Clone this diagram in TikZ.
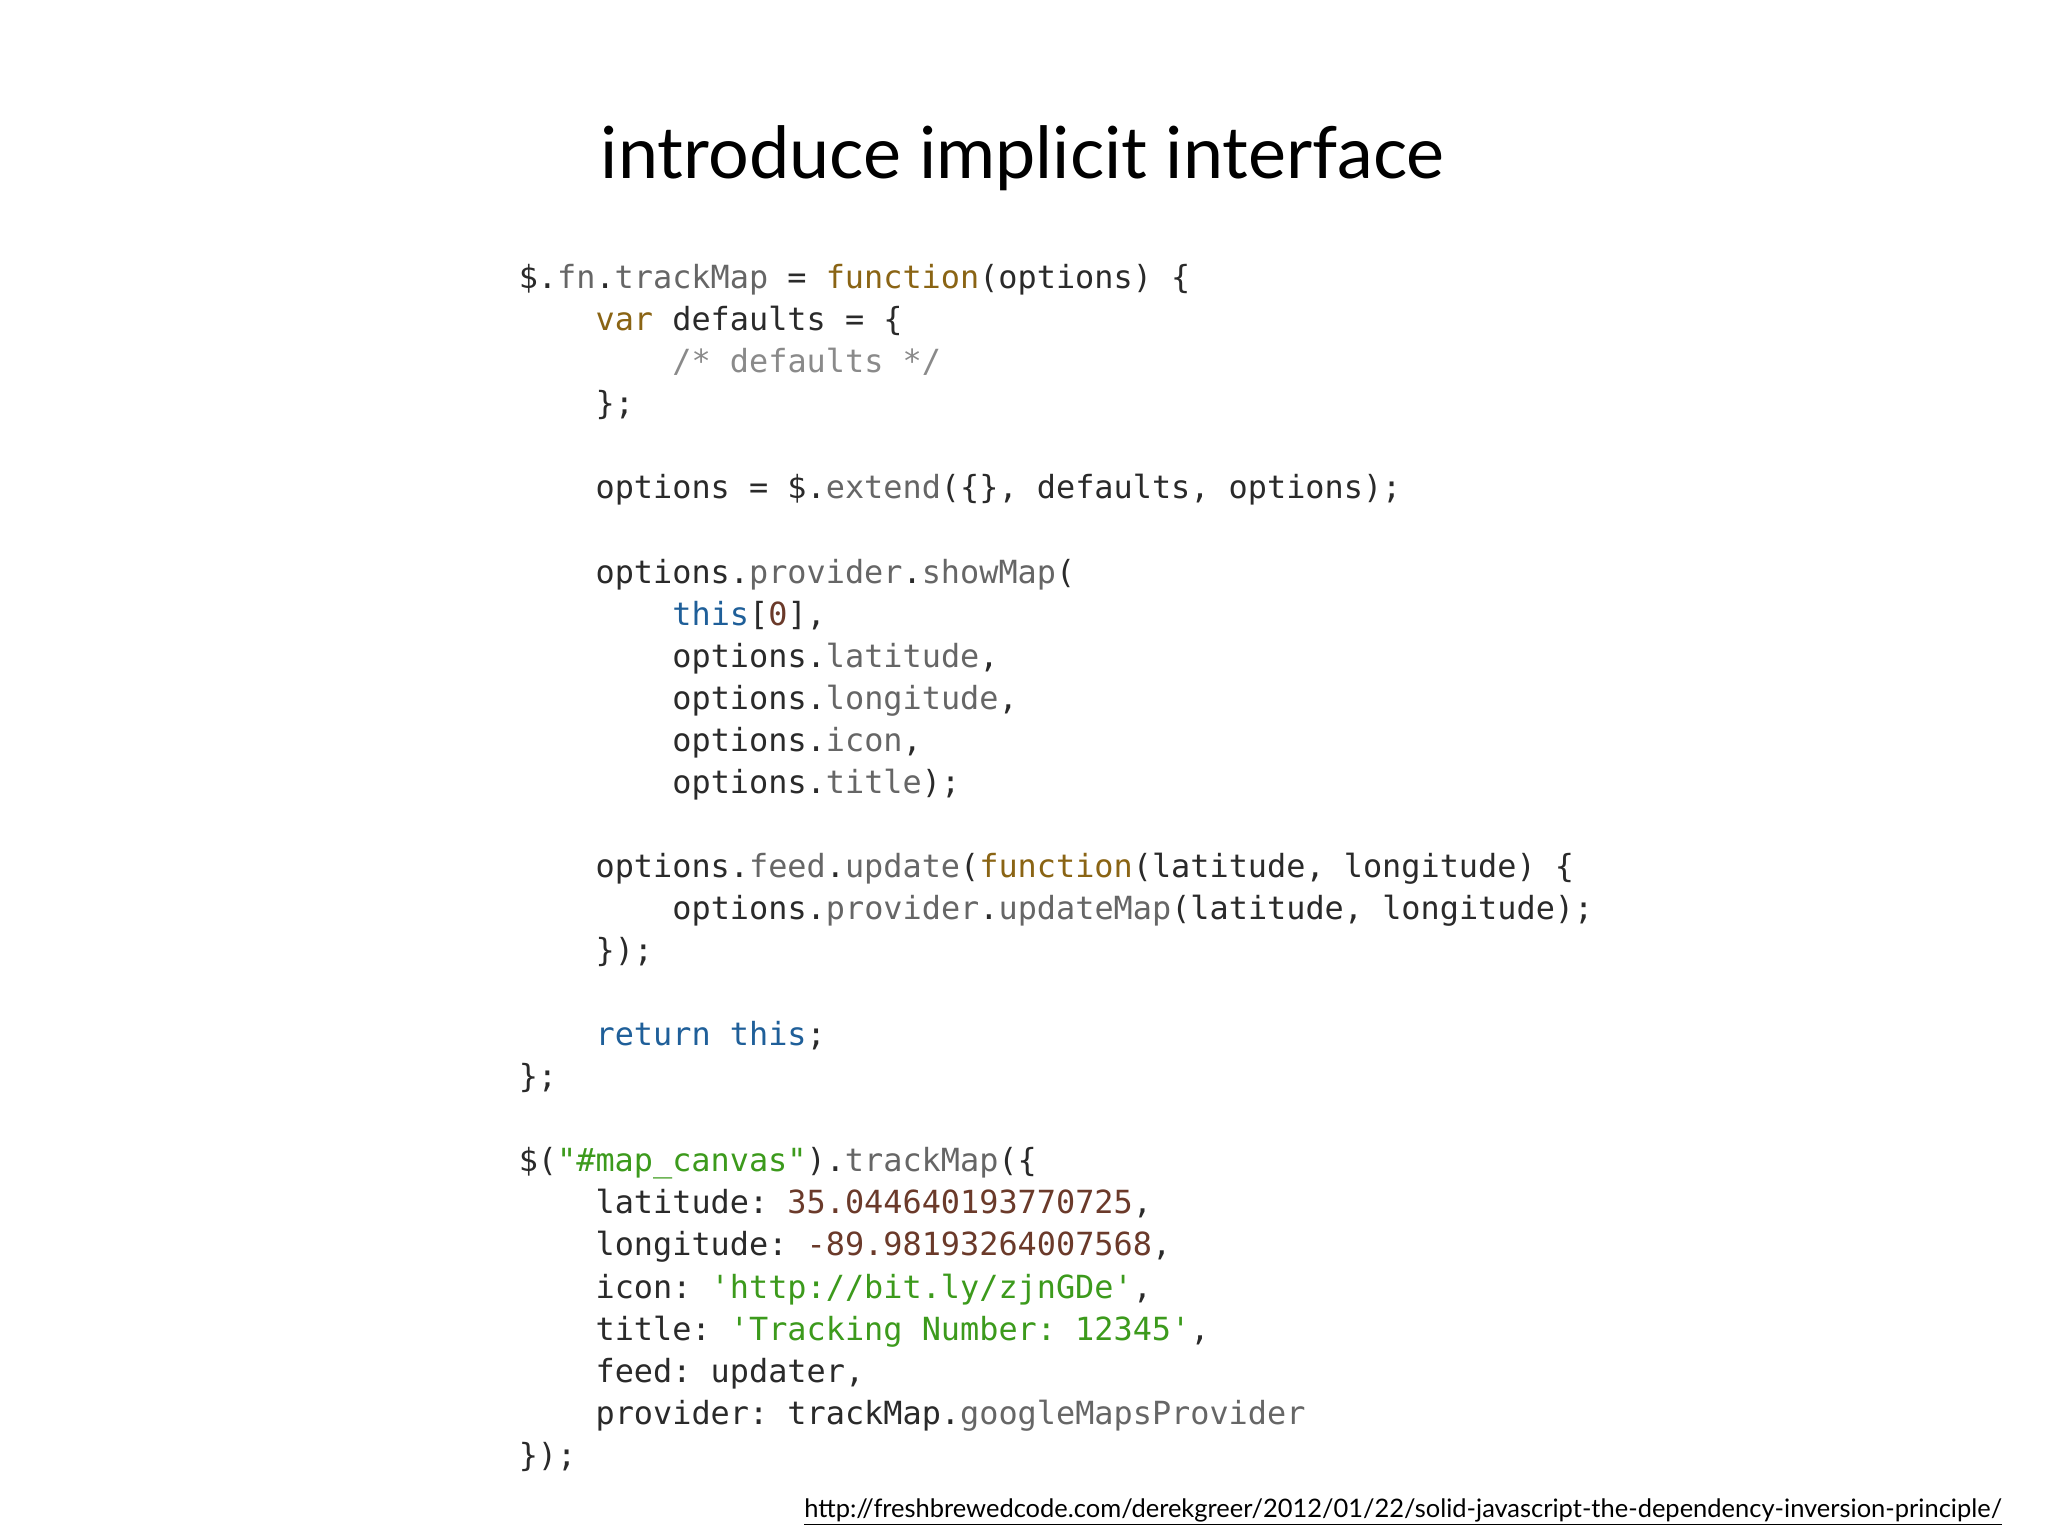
\documentclass[tikz,border=0pt]{standalone}
\usepackage{fontspec}
\setmainfont{Lato}
\setmonofont{DejaVu Sans Mono}
\definecolor{tx}{HTML}{2A2A2A}
\definecolor{pr}{HTML}{666666}
\definecolor{kw}{HTML}{8A6414}
\definecolor{cm}{HTML}{8A8A8A}
\definecolor{bl}{HTML}{1F5F99}
\definecolor{nu}{HTML}{6B3A2A}
\definecolor{st}{HTML}{3C9A1C}
\newcommand{\Pp}[1]{\textcolor{pr}{#1}}
\newcommand{\Kw}[1]{\textcolor{kw}{#1}}
\newcommand{\Bl}[1]{\textcolor{bl}{#1}}
\newcommand{\Nu}[1]{\textcolor{nu}{#1}}
\newcommand{\St}[1]{\textcolor{st}{#1}}
\tikzset{code/.style={anchor=base west,inner sep=0pt,font=\fontsize{24.4}{29}\selectfont\ttfamily,text=tx}}
\begin{document}
\begin{tikzpicture}[x=1pt,y=1pt]
\useasboundingbox (0,0) rectangle (1568,-1176);
\node[anchor=base,inner sep=0pt,font=\fontsize{55}{60}\selectfont,text=black] (title) at (783,-137) {introduce implicit interface};
\def\cx#1{\fpeval{397+14.7*#1}}
\def\cy#1{\fpeval{-221-32.2*#1}}
\node[code] (l0) at (\cx{0},\cy{0}) {\$.\Pp{fn}.\Pp{trackMap} = \Kw{function}(options) \{};
\node[code] (l1) at (\cx{4},\cy{1}) {\Kw{var} defaults = \{};
\node[code] (l2) at (\cx{8},\cy{2}) {\textcolor{cm}{/* defaults */}};
\node[code] (l3) at (\cx{4},\cy{3}) {\};};
\node[code] (l5) at (\cx{4},\cy{5}) {options = \$.\Pp{extend}(\{\}, defaults, options);};
\node[code] (l7) at (\cx{4},\cy{7}) {options.\Pp{provider}.\Pp{showMap}(};
\node[code] (l8) at (\cx{8},\cy{8}) {\Bl{this}[\Nu{0}],};
\node[code] (l9) at (\cx{8},\cy{9}) {options.\Pp{latitude},};
\node[code] (l10) at (\cx{8},\cy{10}) {options.\Pp{longitude},};
\node[code] (l11) at (\cx{8},\cy{11}) {options.\Pp{icon},};
\node[code] (l12) at (\cx{8},\cy{12}) {options.\Pp{title});};
\node[code] (l14) at (\cx{4},\cy{14}) {options.\Pp{feed}.\Pp{update}(\Kw{function}(latitude, longitude) \{};
\node[code] (l15) at (\cx{8},\cy{15}) {options.\Pp{provider}.\Pp{updateMap}(latitude, longitude);};
\node[code] (l16) at (\cx{4},\cy{16}) {\});};
\node[code] (l18) at (\cx{4},\cy{18}) {\Bl{return} \Bl{this};};
\node[code] (l19) at (\cx{0},\cy{19}) {\};};
\node[code] (l21) at (\cx{0},\cy{21}) {\$(\St{"\#map\_canvas"}).\Pp{trackMap}(\{};
\node[code] (l22) at (\cx{4},\cy{22}) {latitude: \Nu{35.044640193770725},};
\node[code] (l23) at (\cx{4},\cy{23}) {longitude: \Nu{-89.98193264007568},};
\node[code] (l24) at (\cx{4},\cy{24}) {icon: \St{\textquotesingle http://bit.ly/zjnGDe\textquotesingle},};
\node[code] (l25) at (\cx{4},\cy{25}) {title: \St{\textquotesingle Tracking Number: 12345\textquotesingle},};
\node[code] (l26) at (\cx{4},\cy{26}) {feed: updater,};
\node[code] (l27) at (\cx{4},\cy{27}) {provider: trackMap.\Pp{googleMapsProvider}};
\node[code] (l28) at (\cx{0},\cy{28}) {\});};
\node[anchor=base east,inner sep=0pt,font=\fontsize{19.5}{22}\selectfont,text=black] (url) at (1533,-1162) {\underline{http://freshbrewedcode.com/derekgreer/2012/01/22/solid-javascript-the-dependency-inversion-principle/}};
\end{tikzpicture}
\end{document}
